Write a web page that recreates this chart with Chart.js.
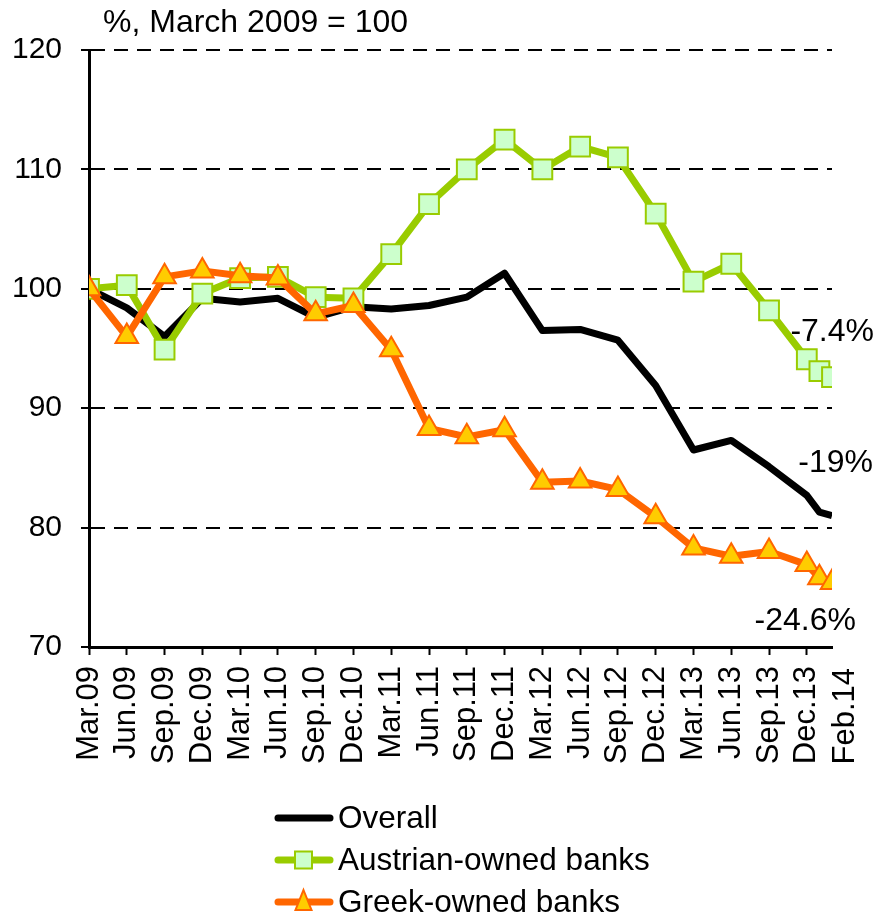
<!DOCTYPE html>
<html>
<head>
<meta charset="utf-8">
<script src="https://cdn.jsdelivr.net/npm/chart.js@4.4.1/dist/chart.umd.min.js"></script>
<style>
  html, body { margin: 0; padding: 0; background: #fff; }
  canvas { display: block; }
</style>
</head>
<body>
<canvas id="chart" width="879" height="916"></canvas>
<script>
// data (index, March 2009 = 100)
const periods = ['Mar.09', 'Jun.09', 'Sep.09', 'Dec.09', 'Mar.10', 'Jun.10', 'Sep.10', 'Dec.10',
  'Mar.11', 'Jun.11', 'Sep.11', 'Dec.11', 'Mar.12', 'Jun.12', 'Sep.12', 'Dec.12',
  'Mar.13', 'Jun.13', 'Sep.13', 'Dec.13', 'Jan.14', 'Feb.14'];
const overall = [100, 98.4, 96.0, 99.2, 98.9, 99.2, 97.6, 98.5, 98.3, 98.6, 99.3, 101.3,
  96.5, 96.6, 95.7, 91.9, 86.5, 87.3, 85.1, 82.7, 81.3, 81.0];
const austrian = [100, 100.3, 94.9, 99.6, 100.9, 101.0, 99.3, 99.2, 102.9, 107.1, 110.0, 112.5,
  110.0, 111.9, 111.0, 106.3, 100.6, 102.1, 98.2, 94.1, 93.1, 92.6];
const greek = [100, 96.0, 101.0, 101.5, 101.1, 100.9, 97.9, 98.6, 94.9, 88.3, 87.6, 88.2,
  83.8, 83.9, 83.2, 80.9, 78.3, 77.6, 78.0, 76.9, 75.8, 75.4];
const tickLabels = ['Mar.09', 'Jun.09', 'Sep.09', 'Dec.09', 'Mar.10', 'Jun.10', 'Sep.10', 'Dec.10',
  'Mar.11', 'Jun.11', 'Sep.11', 'Dec.11', 'Mar.12', 'Jun.12', 'Sep.12', 'Dec.12',
  'Mar.13', 'Jun.13', 'Sep.13', 'Dec.13', 'Feb.14'];
const seriesNames = ['Overall', 'Austrian-owned banks', 'Greek-owned banks'];
const endLabels = ['-19%', '-7.4%', '-24.6%'];
const unitLabel = '%, March 2009 = 100';

const FONT = '"Liberation Sans", Arial, sans-serif';
Chart.defaults.font.family = FONT;
Chart.defaults.color = '#000';

const monthNames = ['Jan', 'Feb', 'Mar', 'Apr', 'May', 'Jun', 'Jul', 'Aug', 'Sep', 'Oct', 'Nov', 'Dec'];
// months since March 2009, so the axis keeps real time spacing
function monthIndex(label) {
  const parts = label.split('.');
  return (parseInt(parts[1], 10) - 9) * 12 + monthNames.indexOf(parts[0]) - 2;
}
const toPoints = vals => vals.map((v, i) => ({ x: monthIndex(periods[i]), y: v }));
// quarterly labels sit on tick marks; the odd last one (Feb.14) is drawn just past the axis end
const quarterLabels = tickLabels.filter(l => monthIndex(l) % 3 === 0);
const extraLabels = tickLabels.filter(l => monthIndex(l) % 3 !== 0);

const colors = ['#000000', '#99CC00', '#FF6600'];

// title, end-of-line labels, extra axis label and the legend drawn onto the canvas
const extras = {
  id: 'extras',
  afterDraw(chart) {
    const { ctx } = chart;
    const x = chart.scales.x, y = chart.scales.y;
    const lastX = x.getPixelForValue(monthIndex(periods[periods.length - 1]));
    ctx.save();
    ctx.fillStyle = '#000';
    ctx.font = '32px ' + FONT;
    ctx.textBaseline = 'middle';
    ctx.textAlign = 'left';
    ctx.fillText(unitLabel, x.left + 14, y.top - 27);

    ctx.textAlign = 'right';
    const series = [overall, austrian, greek];
    const offs = [[41, -52], [42, -45], [24, 39]];
    series.forEach((s, i) => {
      const py = y.getPixelForValue(s[s.length - 1]);
      ctx.fillText(endLabels[i], lastX + offs[i][0], py + offs[i][1]);
    });

    // Feb.14 axis label, rotated like the others
    ctx.font = '31px ' + FONT;
    extraLabels.forEach(l => {
      const px = x.getPixelForValue(monthIndex(l)) + 13;
      ctx.save();
      ctx.translate(px, y.bottom + 21);
      ctx.rotate(-Math.PI / 2);
      ctx.textAlign = 'right';
      ctx.textBaseline = 'middle';
      ctx.fillText(l, 0, 0);
      ctx.restore();
    });

    // legend
    const ds = chart.data.datasets;
    const rowY = [818, 860, 902];
    ds.forEach((d, i) => {
      const ly = rowY[i];
      ctx.strokeStyle = d.borderColor;
      ctx.lineWidth = 7;
      ctx.lineCap = 'round';
      ctx.beginPath();
      ctx.moveTo(278, ly);
      ctx.lineTo(330, ly);
      ctx.stroke();
      ctx.lineWidth = 2;
      ctx.strokeStyle = d.pointBorderColor;
      ctx.fillStyle = d.pointBackgroundColor;
      if (d.pointStyle === 'rect') {
        ctx.beginPath();
        ctx.rect(303.5 - 8.5, ly - 8.5, 17, 17);
        ctx.fill();
        ctx.stroke();
      } else if (d.pointStyle === 'triangle') {
        ctx.beginPath();
        ctx.moveTo(303.5, ly - 12);
        ctx.lineTo(311.5, ly + 8);
        ctx.lineTo(295.5, ly + 8);
        ctx.closePath();
        ctx.fill();
        ctx.stroke();
      }
      ctx.fillStyle = '#000';
      ctx.textAlign = 'left';
      ctx.font = '31.5px ' + FONT;
      ctx.fillText(d.label, 338, ly + 1);
    });
    ctx.restore();
  }
};

new Chart(document.getElementById('chart'), {
  type: 'line',
  data: {
    datasets: [
      {
        label: seriesNames[0], data: toPoints(overall),
        borderColor: colors[0], borderWidth: 7, pointRadius: 0,
        pointStyle: false, order: 3
      },
      {
        label: seriesNames[1], data: toPoints(austrian),
        borderColor: colors[1], borderWidth: 7,
        pointStyle: 'rect', pointRadius: 14, pointBorderWidth: 2,
        pointBackgroundColor: '#CCFFCC', pointBorderColor: '#99CC00', order: 2
      },
      {
        label: seriesNames[2], data: toPoints(greek),
        borderColor: colors[2], borderWidth: 7,
        pointStyle: 'triangle', pointRadius: 13, pointBorderWidth: 2,
        pointBackgroundColor: '#FFCC00', pointBorderColor: '#FF6600', order: 1
      }
    ]
  },
  options: {
    responsive: false,
    animation: false,
    layout: { padding: { top: 50, right: 47, left: 0, bottom: 0 } },
    elements: { line: { tension: 0, borderJoinStyle: 'round' } },
    plugins: { legend: { display: false }, tooltip: { enabled: false } },
    scales: {
      x: {
        type: 'linear',
        min: 0,
        max: monthIndex(periods[periods.length - 1]),
        afterBuildTicks: s => { s.ticks = quarterLabels.map(l => ({ value: monthIndex(l) })); },
        afterFit: s => { s.height = 269; },
        ticks: {
          autoSkip: false, minRotation: 90, maxRotation: 90, padding: 11,
          font: { size: 31 },
          callback: v => {
            const l = quarterLabels.find(t => monthIndex(t) === v);
            return l || '';
          }
        },
        grid: { drawOnChartArea: false, drawTicks: true, tickLength: 8, tickColor: '#000', tickWidth: 2 },
        border: { color: '#000', width: 3 }
      },
      y: {
        min: 70,
        max: 120,
        afterFit: s => { s.width = 89; },
        ticks: { stepSize: 10, padding: 19, font: { size: 30 } },
        grid: {
          color: c => (c.tick && c.tick.value === 70) ? 'rgba(0,0,0,0)' : '#000',
          lineWidth: 2, drawTicks: true, tickLength: 8, tickColor: '#000', tickWidth: 2
        },
        border: { color: '#000', width: 3, dash: [14, 9] }
      }
    }
  },
  plugins: [extras]
});
</script>
</body>
</html>
